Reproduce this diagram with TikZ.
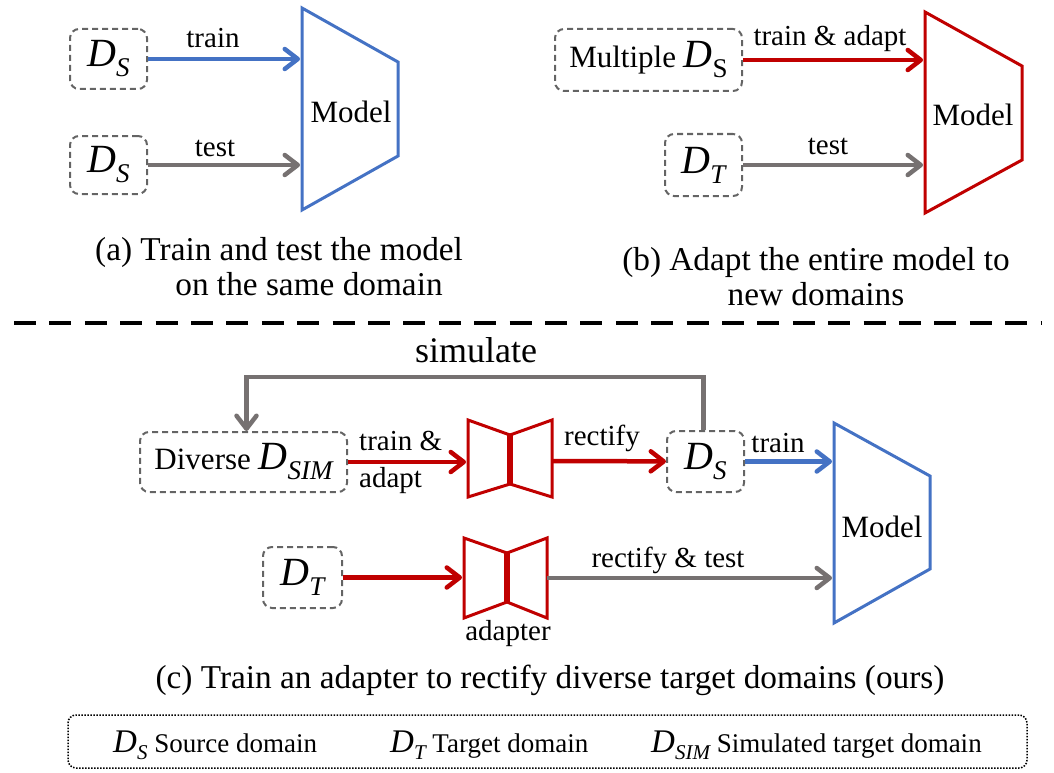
\documentclass[tikz,border=0pt]{standalone}
\usepackage{fontspec}
\setmainfont{LiberationSerif}[Extension=.ttf, UprightFont=*-Regular, ItalicFont=*-Italic, BoldFont=*-Bold, BoldItalicFont=*-BoldItalic]
\usetikzlibrary{arrows.meta}
\definecolor{myblue}{RGB}{68,114,196}
\definecolor{myred}{RGB}{192,0,0}
\definecolor{mygray}{RGB}{118,113,113}
\definecolor{boxgray}{RGB}{100,100,100}
\newcommand\fsL{\fontsize{29}{34}\selectfont}
\newcommand\fsM{\fontsize{31}{36}\selectfont}
\newcommand\fsC{\fontsize{33.3}{38}\selectfont}
\newcommand\fsS{\fontsize{36}{40}\selectfont}
\newcommand\fsG{\fontsize{27}{32}\selectfont}
\newcommand\Dsym[1]{{\fontsize{40}{44}\selectfont\itshape D}\raisebox{-10pt}{\fontsize{27}{30}\selectfont #1}}
\newcommand\Dleg[1]{{\fontsize{33}{36}\selectfont\itshape D}\raisebox{-7pt}{\fontsize{21}{24}\selectfont\itshape #1}}
\tikzset{
  dbox/.style={draw=boxgray, line width=2pt, dash pattern=on 6pt off 4pt, rounded corners=9pt, inner sep=0pt},
  conn/.style={line width=4.5pt, -{Straight Barb[length=13pt,width=20pt,round]}},
  bconn/.style={conn, draw=myblue},
  rconn/.style={conn, draw=myred},
  gconn/.style={conn, draw=mygray},
  trap/.style={line width=3pt, line join=miter},
  lbl/.style={font=\fsL, anchor=base, inner sep=0pt},
  captxt/.style={font=\fsC, anchor=base, inner sep=0pt},
}
\begin{document}
\begin{tikzpicture}[x=1pt,y=-1pt]
\useasboundingbox (0,0) rectangle (1054,773);

% ---------- (a) ----------
\node[dbox, minimum width=77pt, minimum height=60pt] (a1) at (108.5,59) {\Dsym{\itshape S}};
\node[dbox, minimum width=77pt, minimum height=58pt] (a2) at (108.5,165) {\Dsym{\itshape S}};
\draw[trap, myblue] (302,8) -- (398,62) -- (398,156) -- (302,210) -- cycle;
\node[font=\fsM, anchor=base, inner sep=0pt] (mA) at (351,123) {Model};
\coordinate (mAL) at (300,0);
\draw[bconn] (a1) -- (a1 -| mAL);
\draw[gconn] (a2) -- (a2 -| mAL);
\node[lbl] (ta) at (213,48) {train};
\node[lbl] (tea) at (215,157) {test};
\node[captxt, anchor=base west] (capa1) at (95,260) {(a) Train and test the model};
\node[captxt] (capa2) at (309,295) {on the same domain};

% ---------- (b) ----------
\node[dbox, minimum width=187pt, minimum height=62pt] (b1) at (648.5,60) {\fsM Multiple \Dsym{S}};
\node[dbox, minimum width=77pt, minimum height=62pt] (b2) at (703.5,165) {\Dsym{\itshape T}};
\draw[trap, myred] (925,12) -- (1022,66) -- (1022,160) -- (925,213) -- cycle;
\node[font=\fsM, anchor=base, inner sep=0pt] (mB) at (973,125) {Model};
\coordinate (mBL) at (923,0);
\draw[rconn] (b1) -- (b1 -| mBL);
\draw[gconn] (b2) -- (b2 -| mBL);
\node[lbl] (tb) at (830,46) {train \& adapt};
\node[lbl] (teb) at (828,154) {test};
\node[captxt] (capb1) at (816,270) {(b) Adapt the entire model to};
\node[captxt] (capb2) at (816,305) {new domains};

% ---------- separator ----------
\coordinate (sepL) at (14,323);
\coordinate (sepR) at (1042,323);
\draw[line width=4.5pt, dash pattern=on 22pt off 13.4pt] (sepL) -- (sepR);

% ---------- (c) ----------
\node[dbox, minimum width=207pt, minimum height=60pt] (div) at (243.5,462) {\fsM Diverse \Dsym{\itshape SIM}};
\node[dbox, minimum width=77pt, minimum height=61pt] (dsc) at (705.5,461.5) {\Dsym{\itshape S}};
\node[dbox, minimum width=79pt, minimum height=61pt] (dt) at (302.5,577.5) {\Dsym{\itshape T}};

% adapter 1
\draw[trap, myred] (468,420) -- (510,435) -- (510,484) -- (468,497) -- cycle;
\draw[trap, myred] (510,435) -- (552,420) -- (552,497) -- (510,484) -- cycle;
\draw[myred, line width=5.5pt] (510,435) -- (510,484);
\coordinate (ad1L) at (466,461);
\coordinate (ad1R) at (552,461);

% adapter 2
\draw[trap, myred] (464,538) -- (507,553) -- (507,602) -- (464,618) -- cycle;
\draw[trap, myred] (507,553) -- (547,538) -- (547,618) -- (507,602) -- cycle;
\draw[myred, line width=5.5pt] (507,553) -- (507,602);
\coordinate (ad2L) at (462,578);
\coordinate (ad2R) at (547,578);

% model (c)
\draw[trap, myblue] (834,423) -- (930,476) -- (930,569) -- (834,623) -- cycle;
\node[font=\fsM, anchor=base, inner sep=0pt] (mC) at (882,537) {Model};
\coordinate (mCL) at (832,0);

% connectors
\draw[rconn] (div) -- (div -| ad1L);
\draw[rconn] (ad1R) -- (dsc);
\draw[bconn] (dsc) -- (dsc -| mCL);
\draw[rconn] (dt) -- (dt -| ad2L);
\draw[gconn] (ad2R) -- (ad2R -| mCL);
\coordinate (simtop) at (475,377);
\draw[gconn] ([xshift=-2pt]dsc.north) |- (simtop) -| ([xshift=3pt]div.north);

% labels (c)
\node[font=\fsS, anchor=base, inner sep=0pt] (sim) at (476,362) {simulate};
\node[lbl, anchor=base west] (ta1) at (359,450) {train \&};
\node[lbl, anchor=base west] (ta2) at (359,487) {adapt};
\node[lbl] (rc) at (602,445) {rectify};
\node[lbl] (tc) at (778,452) {train};
\node[lbl] (rt) at (668,567) {rectify \& test};
\node[lbl] (adl) at (508,640) {adapter};
\node[captxt] (capc) at (550,688) {(c) Train an adapter to rectify diverse target domains (ours)};

% ---------- legend ----------
\node[draw=black, line width=1.5pt, dash pattern=on 1.5pt off 1.5pt, rounded corners=8pt, minimum width=959pt, minimum height=53pt, inner sep=0pt] (leg) at (547.5,741.5) {};
\node[font=\fsG, anchor=base west, inner sep=0pt] (l1) at (113,752) {\Dleg{S} Source domain};
\node[font=\fsG, anchor=base west, inner sep=0pt] (l2) at (390,752) {\Dleg{T} Target domain};
\node[font=\fsG, anchor=base west, inner sep=0pt] (l3) at (651,752) {\Dleg{SIM} Simulated target domain};
\end{tikzpicture}
\end{document}
